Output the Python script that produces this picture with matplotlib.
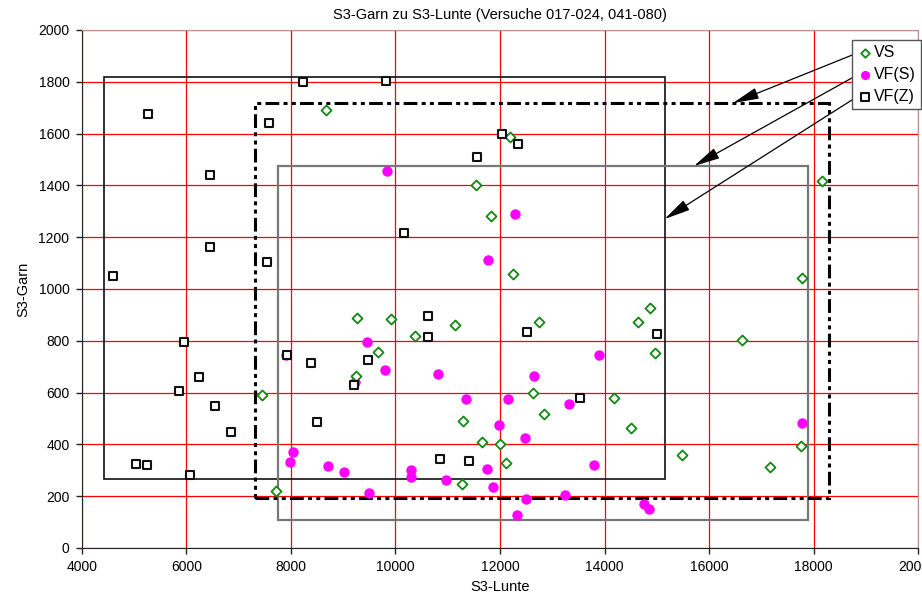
import numpy as np
import matplotlib
matplotlib.use('Agg')
from matplotlib import pyplot as plt
from matplotlib.patches import Rectangle

# --- data ---
vs_x = [8664, 12191, 11547, 11822, 12249, 18163, 17774, 9257, 9659, 9244, 7439, 7707,
        9920, 10367, 11133, 12746, 12638, 12848, 11292, 11661, 11994, 12121, 11267,
        14647, 14877, 14972, 14175, 14500, 16626, 15489, 17167, 17754]
vs_y = [1692, 1587, 1403, 1282, 1057, 1418, 1042, 889, 757, 665, 591, 219,
        885, 817, 860, 874, 600, 519, 490, 409, 400, 329, 247,
        874, 925, 752, 578, 462, 802, 359, 313, 395]

vfs_x = [9837, 12287, 11770, 9455, 7898, 9231, 8038, 7981, 8702, 9020, 9498,
         9790, 10823, 11349, 12159, 12645, 13888, 13326, 11987, 12484, 10297, 10290,
         10972, 11751, 11872, 12490, 13238, 13793, 12334, 14750, 14852, 17786]
vfs_y = [1456, 1288, 1112, 794, 745, 641, 371, 331, 315, 292, 214,
         687, 671, 574, 575, 663, 745, 557, 476, 423, 300, 275,
         261, 304, 236, 189, 203, 319, 129, 169, 149, 484]

vfz_x = [8224, 5270, 7573, 6450, 6456, 7547, 4593, 9818, 12031, 12337, 11552, 10169,
         5946, 6239, 5850, 6552, 6852, 5027, 5250, 6067, 7917, 8383, 9480, 9212, 8492,
         10616, 10628, 12510, 13537, 15011, 10858, 11407]
vfz_y = [1798, 1677, 1640, 1439, 1162, 1103, 1050, 1802, 1597, 1560, 1510, 1215,
         797, 660, 605, 549, 448, 326, 319, 282, 746, 713, 726, 629, 485,
         896, 816, 834, 579, 825, 344, 337]

# range boxes (x0, y0, x1, y1)
box_z = (4420, 266, 15150, 1818)
box_vs = (7310, 193, 18300, 1718)
box_s = (7750, 108, 17895, 1475)

plt.rcParams['font.family'] = ['Liberation Sans', 'DejaVu Sans']

fig = plt.figure(figsize=(9.22, 6.08), dpi=100)
ax = fig.add_axes([0.0889, 0.0987, 0.9068, 0.852])

ax.set_xlim(4000, 20000)
ax.set_ylim(0, 2000)
ax.set_xticks(np.arange(4000, 20001, 2000))
ax.set_yticks(np.arange(0, 2001, 200))
ax.grid(True, color='#ff0000', linewidth=0.9)
ax.set_axisbelow(True)
for s in ['top', 'right']:
    ax.spines[s].set_color('#c09090')
for s in ['left', 'bottom']:
    ax.spines[s].set_color('#222222')
ax.tick_params(labelsize=10, length=4, width=1, color='#222222', pad=5)

def draw_box(b, **kw):
    ax.add_patch(Rectangle((b[0], b[1]), b[2] - b[0], b[3] - b[1], fill=False, zorder=2, **kw))

draw_box(box_z, edgecolor='#111111', linewidth=1.2)
draw_box(box_s, edgecolor='#777777', linewidth=1.6)
draw_box(box_vs, edgecolor='black', linewidth=2.2,
         linestyle=(0, (4.5, 1.4, 1.3, 1.4, 1.3, 1.4)))

ax.scatter(vfs_x, vfs_y, s=42, color='#ff00ff', marker='o', zorder=3, label='VF(S)')
ax.scatter(vs_x, vs_y, s=26, facecolor='white', edgecolor='#118811', marker='D',
           linewidths=1.3, zorder=4, label='VS')
ax.scatter(vfz_x, vfz_y, s=40, facecolor='white', edgecolor='#111111', marker='s',
           linewidths=1.5, zorder=4, label='VF(Z)')

h, l = ax.get_legend_handles_labels()
order = [1, 0, 2]
leg = ax.legend([h[i] for i in order], [l[i] for i in order], loc='upper left',
                bbox_to_anchor=(0.921, 0.981), fancybox=False, framealpha=1,
                edgecolor='#555555', fontsize=11.5, handletextpad=0.1, handlelength=0.9,
                borderpad=0.35, labelspacing=0.42, borderaxespad=0, markerscale=0.85)
leg.set_zorder(6)

# arrows from the legend to the boxes
arrow_kw = dict(arrowstyle='-|>,head_length=1.6,head_width=0.35', color='black',
                lw=0.9, shrinkA=0, shrinkB=0)
ax.annotate('', xy=(16459, box_vs[3]), xytext=(18737, 1903), arrowprops=arrow_kw, zorder=5)
ax.annotate('', xy=(15713, box_s[3]), xytext=(18737, 1815), arrowprops=arrow_kw, zorder=5)
ax.annotate('', xy=(box_z[2], 1270), xytext=(18737, 1730), arrowprops=arrow_kw, zorder=5)

ax.set_title('S3-Garn zu S3-Lunte (Versuche 017-024, 041-080)', fontsize=10.5, pad=8)
ax.set_xlabel('S3-Lunte', fontsize=10.5, labelpad=4)
ax.set_ylabel('S3-Garn', fontsize=10.5, labelpad=6)

fig.savefig('out.png', dpi=100)
